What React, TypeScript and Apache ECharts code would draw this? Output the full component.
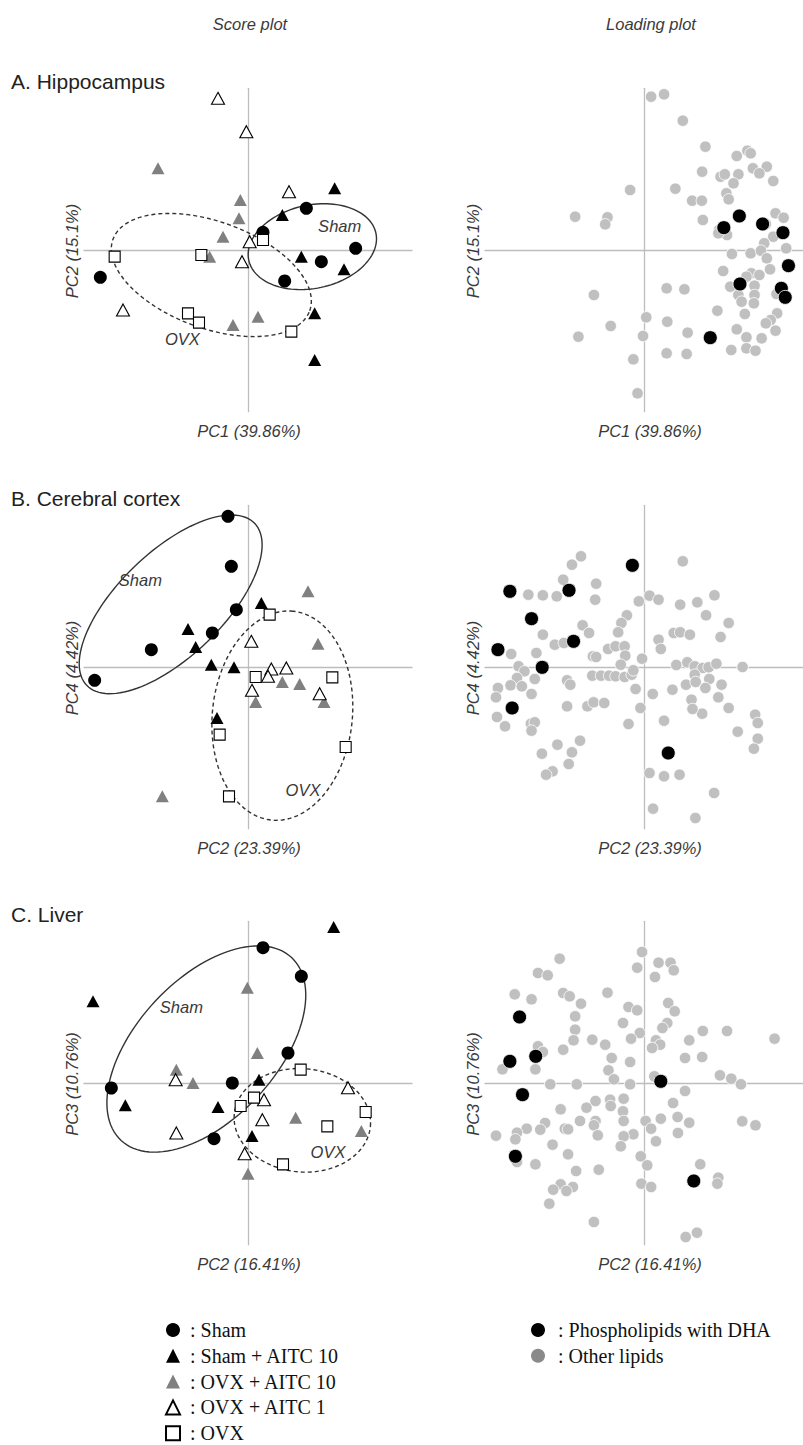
import React, { useEffect, useRef } from 'react';
import * as echarts from 'echarts';

// ---------- labels ----------
const GROUP_NAMES = ['Sham', 'Sham + AITC 10', 'OVX + AITC 10', 'OVX + AITC 1', 'OVX'];
const LIPID_NAMES = ['Phospholipids with DHA', 'Other lipids'];
const PANEL_TITLES = ['A. Hippocampus', 'B. Cerebral cortex', 'C. Liver'];
const COLUMN_TITLES = ['Score plot', 'Loading plot'];
const X_NAMES = ['PC1 (39.86%)', 'PC2 (23.39%)', 'PC2 (16.41%)'];
const Y_NAMES = ['PC2 (15.1%)', 'PC4 (4.42%)', 'PC3 (10.76%)'];
const ELLIPSE_NAMES = ['Sham', 'OVX'];

// ---------- A. Hippocampus : scores ----------
const hippoSham = [[17.5, 12.5], [4.5, 5.3], [32.3, 0.5], [22.0, -3.5], [11.0, -9.3], [-44.3, -8.2]];
const hippoShamAitc10 = [[26.0, 18.5], [10.3, 10.5], [16.0, -2.0], [28.8, -5.8], [20.0, -19.0], [20.0, -33.0]];
const hippoOvxAitc10 = [[-27.0, 24.5], [-2.3, 15.0], [-2.7, 9.5], [-7.5, 4.0], [-11.5, -2.0], [3.0, -20.0], [-4.5, -22.5]];
const hippoOvxAitc1 = [[-9.0, 45.5], [-0.5, 35.5], [12.3, 17.5], [0.5, 2.5], [-1.8, -3.5], [-37.5, -18.0]];
const hippoOvx = [[-40.0, -2.0], [-14.0, -1.5], [4.5, 3.0], [-18.0, -19.0], [-14.7, -21.8], [13.0, -24.5]];
// ellipse: cx, cy, semi-major, semi-minor, angle(deg), label x, label y, dashed
const hippoEllipses = [[19.3, 1.0, 19.5, 12.5, 12, 27.5, 7.2, 0], [-11.0, -7.5, 31.4, 16.0, -20, -19.7, -26.8, 1]];

// ---------- A. Hippocampus : loadings ----------
const hippoOther = [
  [2.2, 46.0], [6.2, 46.7], [12.0, 38.8], [19.0, 31.0], [32.0, 29.8], [33.0, 29.0], [28.7, 28.2], [18.0, 23.5],
  [23.7, 22.0], [25.0, 22.7], [29.2, 22.7], [33.7, 24.5], [38.0, 25.0], [35.7, 23.0], [40.0, 20.7], [27.7, 20.0],
  [-4.3, 18.0], [9.7, 18.4], [25.5, 17.0], [26.2, 15.2], [14.9, 14.8], [17.9, 14.8], [-21.3, 10.0], [-11.3, 9.8],
  [-12.0, 7.7], [18.2, 9.0], [23.2, 6.0], [25.7, 4.5], [40.7, 11.0], [43.2, 9.7], [37.7, 7.8], [40.0, 4.0],
  [37.2, 2.0], [44.0, 0.5], [27.2, -1.2], [33.0, -1.0], [36.2, -0.2], [38.0, -2.5], [24.5, -6.3], [33.2, -7.0],
  [35.7, -7.5], [39.0, -5.8], [31.7, -8.0], [26.7, -11.0], [34.2, -10.7], [29.2, -13.5], [34.2, -13.5], [30.2, -15.5],
  [-15.5, -13.5], [7.0, -11.5], [12.5, -11.8], [41.0, -13.2], [22.7, -18.2], [31.2, -19.2], [41.2, -19.0], [39.2, -21.0],
  [37.7, -22.0], [0.7, -20.2], [7.2, -21.5], [-10.3, -22.8], [-20.3, -26.0], [-0.3, -25.8], [13.5, -24.8], [28.7, -23.8],
  [31.7, -26.2], [36.4, -26.5], [40.7, -24.2], [7.0, -31.0], [13.2, -31.2], [27.0, -30.0], [31.7, -29.5], [34.5, -30.2],
  [-3.3, -32.8], [-2.0, -43.0], [23.0, 5.0], [34.0, -16.0]
];
const hippoDha = [[29.5, 10.2], [24.7, 6.7], [36.7, 7.8], [43.0, 5.2], [44.7, -4.7], [29.7, -10.2], [42.5, -11.5], [43.7, -14.2], [20.5, -26.3]];

// ---------- B. Cerebral cortex : scores ----------
const cortexSham = [[-6.0, 45.2], [-5.0, 30.2], [-3.5, 17.2], [-10.7, 10.2], [-29.0, 5.2], [-46.0, -4.0]];
const cortexShamAitc10 = [[4.0, 19.2], [-18.0, 11.4], [-15.7, 6.0], [-11.0, 0.7], [-4.2, -0.1], [-9.3, -15.3]];
const cortexOvxAitc10 = [[18.0, 22.7], [21.0, 7.0], [10.3, -4.5], [15.5, -5.1], [2.3, -10.5], [22.8, -10.5], [-25.7, -38.8]];
const cortexOvxAitc1 = [[1.0, 7.7], [7.0, -0.6], [11.5, -0.3], [6.0, -2.8], [1.2, -7.0], [21.5, -8.0]];
const cortexOvx = [[6.5, 15.7], [2.3, -3.0], [25.3, -3.1], [-8.5, -20.3], [29.3, -24.0], [-5.7, -38.8]];
const cortexEllipses = [[-23.2, 18.8, 35.0, 15.7, 44, -32.3, 26.2, 0], [10.3, -14.6, 31.5, 21.0, 84, 16.5, -36.8, 1]];

// ---------- B. Cerebral cortex : loadings ----------
const cortexOther = [
  [-19.5, 33.2], [-22.3, 30.7], [12.0, 31.7], [-25.0, 26.2], [-14.8, 25.0], [-35.8, 21.7], [-31.3, 21.5], [-27.0, 21.2],
  [-15.1, 20.2], [-1.6, 19.7], [1.7, 21.4], [4.5, 20.2], [11.2, 18.7], [16.5, 19.4], [21.8, 21.5], [-5.3, 15.5],
  [19.2, 15.5], [26.2, 13.2], [-19.0, 12.5], [-7.0, 13.2], [-8.0, 10.4], [-17.0, 10.2], [-31.3, 9.7], [-27.6, 6.7],
  [-24.8, 7.2], [9.2, 10.2], [11.2, 10.4], [14.2, 9.7], [23.7, 9.0], [4.5, 8.2], [5.2, 5.4], [-11.1, 5.4],
  [-8.8, 6.2], [-6.0, 6.2], [-15.8, 3.2], [-14.8, 3.0], [-5.8, 3.4], [-0.6, 2.5], [-7.2, 0.7], [-41.1, 3.9],
  [-33.3, 4.2], [-38.8, 0.2], [-37.0, -1.3], [-39.3, -3.3], [-33.8, -3.6], [-45.2, -6.3], [-41.3, -5.5], [-37.8, -5.8],
  [-34.8, -8.1], [-45.8, -9.1], [-23.8, -4.0], [-22.8, -5.3], [-16.0, -2.6], [-13.3, -2.6], [-10.8, -2.6], [-8.8, -2.8],
  [-6.0, -3.0], [-3.8, -2.3], [-3.3, -1.0], [10.0, 0.6], [13.4, 1.4], [15.7, 0.2], [18.2, -0.3], [20.0, -0.1],
  [22.4, 1.0], [30.5, 0.0], [15.7, -2.3], [13.0, -5.3], [20.2, -3.6], [16.0, -4.5], [19.0, -6.3], [24.0, -5.3],
  [-2.6, -6.6], [2.7, -8.1], [8.8, -6.8], [23.0, -9.1], [14.7, -9.8], [18.0, -14.0], [15.0, -12.6], [26.2, -12.3],
  [-23.8, -11.8], [-17.5, -11.8], [-15.6, -10.6], [-12.3, -10.8], [-1.1, -12.3], [-45.5, -15.0], [-43.0, -17.8], [-35.0, -17.0],
  [-33.8, -16.6], [-34.8, -19.1], [-4.8, -17.1], [6.2, -16.1], [29.0, -19.4], [34.4, -14.3], [35.2, -16.8], [35.2, -21.5],
  [34.0, -24.5], [-19.8, -22.1], [-26.8, -23.3], [-31.6, -26.0], [-22.3, -25.6], [-23.3, -29.1], [-28.3, -31.3], [-30.3, -32.3],
  [1.7, -31.8], [6.2, -32.8], [11.0, -32.3], [21.7, -37.8], [2.8, -42.5], [15.9, -45.3]
];
const cortexDha = [[-3.6, 30.5], [-41.5, 22.7], [-23.2, 23.0], [-34.8, 14.5], [-21.8, 7.7], [-45.2, 5.2], [-31.5, -0.1], [-40.8, -12.3], [7.5, -25.8]];

// ---------- C. Liver : scores ----------
const liverSham = [[4.5, 40.6], [16.0, 32.0], [12.0, 9.0], [-4.7, 0.0], [-41.0, -1.5], [-10.2, -16.7]];
const liverShamAitc10 = [[25.7, 46.8], [-46.5, 24.5], [3.3, 1.0], [-36.8, -6.7], [-9.0, -7.2], [1.2, -15.9]];
const liverOvxAitc10 = [[-0.2, 28.6], [2.8, 9.0], [-21.5, 4.0], [-16.5, 0.0], [14.3, -10.4], [34.0, -14.4], [0.0, -27.2]];
const liverOvxAitc1 = [[-21.7, 1.0], [30.0, -1.4], [4.8, -5.0], [4.3, -11.0], [-21.5, -15.0], [-1.0, -21.2]];
const liverOvx = [[15.8, 4.0], [1.8, -4.4], [-2.2, -6.9], [35.3, -8.7], [23.8, -13.0], [10.5, -24.4]];
const liverEllipses = [[-12.5, 10.2, 37.5, 21.0, 47, -20.0, 22.8, 0], [16.3, -11.2, 20.5, 15.5, -5, 24.0, -20.7, 1]];

// ---------- C. Liver : loadings ----------
const liverOther = [
  [-0.6, 39.3], [-26.1, 37.3], [4.5, 36.1], [8.2, 36.1], [-2.1, 34.6], [9.2, 33.8], [-32.8, 33.0], [-29.8, 32.3],
  [3.4, 31.8], [-40.0, 26.6], [-34.8, 25.1], [-25.0, 27.0], [-23.0, 26.0], [-11.3, 27.1], [-19.5, 23.8], [7.5, 24.0],
  [9.5, 21.5], [-4.8, 22.8], [-2.1, 21.8], [-21.3, 20.0], [-6.5, 18.0], [7.2, 18.0], [5.7, 16.5], [-21.3, 16.0],
  [-21.8, 12.8], [-1.3, 15.0], [-4.0, 13.3], [-16.0, 13.0], [-12.0, 11.5], [-25.0, 10.0], [-32.8, 11.0], [-31.3, 9.3],
  [3.7, 12.8], [5.0, 11.5], [2.5, 10.5], [14.0, 12.8], [18.2, 15.6], [25.7, 15.6], [40.4, 13.3], [-10.0, 7.5],
  [-4.3, 6.3], [12.7, 7.5], [18.0, 7.8], [-11.0, 3.8], [-9.3, 1.1], [-33.6, 4.1], [-43.8, 4.1], [-29.0, -0.4],
  [-20.8, -0.4], [-4.3, -0.4], [3.2, 2.0], [23.5, 2.3], [27.0, 1.3], [30.0, -0.4], [12.7, -2.4], [-15.0, -5.4],
  [-10.5, -5.0], [-10.3, -6.9], [-6.3, -4.7], [-25.8, -7.9], [-17.8, -7.4], [9.0, -6.0], [-6.5, -8.5], [-15.0, -11.4],
  [-19.8, -11.4], [-30.6, -12.0], [-32.1, -14.0], [-36.3, -13.7], [-39.3, -14.9], [-39.8, -16.9], [-45.8, -15.8], [-24.5, -13.7],
  [-23.5, -13.9], [-15.5, -12.7], [-14.3, -15.7], [-6.3, -11.4], [0.5, -11.4], [2.2, -13.7], [5.2, -10.7], [10.4, -10.2],
  [14.0, -11.9], [10.5, -15.0], [-3.3, -15.4], [-6.3, -16.0], [-7.2, -19.0], [3.7, -17.5], [30.4, -11.5], [34.5, -12.7],
  [-28.3, -18.5], [-23.5, -21.4], [-1.0, -22.0], [1.0, -24.7], [17.4, -24.4], [23.0, -28.4], [22.7, -30.2], [-33.6, -24.4],
  [-21.0, -26.4], [-14.0, -26.0], [-25.8, -30.4], [-22.0, -31.2], [-24.0, -32.4], [-28.1, -32.0], [-29.3, -36.2], [-0.8, -30.2],
  [2.2, -31.2], [-15.5, -41.7], [12.9, -46.2], [16.4, -44.9], [-39.3, -23.7]
];
const liverDha = [[-38.5, 19.8], [-41.5, 6.5], [-33.5, 8.0], [-37.6, -3.5], [5.2, 0.5], [-39.8, -22.0], [15.4, -29.4]];

const SCORE_DATA = [
  [hippoSham, hippoShamAitc10, hippoOvxAitc10, hippoOvxAitc1, hippoOvx],
  [cortexSham, cortexShamAitc10, cortexOvxAitc10, cortexOvxAitc1, cortexOvx],
  [liverSham, liverShamAitc10, liverOvxAitc10, liverOvxAitc1, liverOvx],
];
const ELLIPSE_DATA = [hippoEllipses, cortexEllipses, liverEllipses];
const DHA_DATA = [hippoDha, cortexDha, liverDha];
const OTHER_DATA = [hippoOther, cortexOther, liverOther];

// ---------- layout ----------
const PX = 10 / 3; // pixels per unit
const XH = 49.2;
const YH = 48.5;
const CROSS_Y = [250, 667, 1083];
const CROSS_X = [248, 649];
const AXIS_COLOR = '#bdbdbd';
const TEXT_COLOR = '#3a3a3a';
const SANS = '"Liberation Sans", Arial, Helvetica, sans-serif';
const SERIF = '"Liberation Serif", "Times New Roman", serif';

const GROUP_STYLES: any[] = [
  { symbol: 'circle', symbolSize: 13, itemStyle: { color: '#000000', opacity: 1 } },
  { symbol: 'triangle', symbolSize: [13, 12], itemStyle: { color: '#000000', opacity: 1 } },
  { symbol: 'triangle', symbolSize: [13, 12], itemStyle: { color: '#808080', opacity: 1 } },
  { symbol: 'triangle', symbolSize: [13, 12], itemStyle: { color: '#ffffff', borderColor: '#000000', borderWidth: 1.1, opacity: 1 } },
  { symbol: 'rect', symbolSize: 11, itemStyle: { color: '#ffffff', borderColor: '#000000', borderWidth: 1.1, opacity: 1 } },
];

function buildOption() {
  const grid: any[] = [];
  const xAxis: any[] = [];
  const yAxis: any[] = [];
  const series: any[] = [];
  const graphic: any[] = [];

  const axisCommon = {
    type: 'value',
    axisTick: { show: false },
    axisLabel: { show: false },
    splitLine: { show: false },
    axisLine: { show: true, onZero: true, lineStyle: { color: AXIS_COLOR, width: 1.3 } },
  };

  const nameStyle = {
    fill: TEXT_COLOR, fontSize: 16.5, fontStyle: 'italic', fontFamily: SANS,
    align: 'center', verticalAlign: 'middle', textAlign: 'center', textVerticalAlign: 'middle',
  };

  for (let p = 0; p < 3; p++) {
    for (let k = 0; k < 2; k++) {
      const gi = p * 2 + k;
      grid.push({
        left: CROSS_X[k] - XH * PX,
        top: CROSS_Y[p] - YH * PX,
        width: 2 * XH * PX,
        height: 2 * YH * PX,
        containLabel: false,
      });
      xAxis.push({ ...axisCommon, gridIndex: gi, min: -XH, max: XH });
      yAxis.push({ ...axisCommon, gridIndex: gi, min: -YH, max: YH });

      graphic.push({
        type: 'text',
        x: CROSS_X[k] + 1,
        y: CROSS_Y[p] + 181,
        style: { ...nameStyle, text: X_NAMES[p] },
      });
      graphic.push({
        type: 'text',
        x: CROSS_X[k] - 176,
        y: CROSS_Y[p] + 1,
        rotation: Math.PI / 2,
        style: { ...nameStyle, text: Y_NAMES[p] },
      });
    }

    // score ellipses
    const ellipses = ELLIPSE_DATA[p];
    series.push({
      type: 'custom',
      name: 'ellipses-' + p,
      xAxisIndex: p * 2,
      yAxisIndex: p * 2,
      silent: true,
      z: 2,
      data: ellipses,
      encode: { x: 0, y: 1 },
      renderItem: (params: any, api: any) => {
        const cx = api.value(0);
        const cy = api.value(1);
        const a = api.value(2);
        const b = api.value(3);
        const ang = (api.value(4) * Math.PI) / 180;
        const dashed = api.value(7) === 1;
        const pts: number[][] = [];
        const n = 120;
        for (let i = 0; i <= n; i++) {
          const t = (i / n) * Math.PI * 2;
          const x = cx + a * Math.cos(t) * Math.cos(ang) - b * Math.sin(t) * Math.sin(ang);
          const y = cy + a * Math.cos(t) * Math.sin(ang) + b * Math.sin(t) * Math.cos(ang);
          pts.push(api.coord([x, y]));
        }
        const lp = api.coord([api.value(5), api.value(6)]);
        return {
          type: 'group',
          children: [
            {
              type: 'polyline',
              shape: { points: pts },
              style: { fill: 'none', stroke: '#333333', lineWidth: 1.4, lineDash: dashed ? [4, 3] : null },
            },
            {
              type: 'text',
              x: lp[0],
              y: lp[1],
              style: { ...nameStyle, text: ELLIPSE_NAMES[params.dataIndex] },
            },
          ],
        };
      },
    });

    SCORE_DATA[p].forEach((data, g) => {
      series.push({
        type: 'scatter',
        name: GROUP_NAMES[g],
        xAxisIndex: p * 2,
        yAxisIndex: p * 2,
        data,
        clip: false,
        z: 3,
        ...GROUP_STYLES[g],
      });
    });

    series.push({
      type: 'scatter',
      name: LIPID_NAMES[1],
      xAxisIndex: p * 2 + 1,
      yAxisIndex: p * 2 + 1,
      data: OTHER_DATA[p],
      clip: false,
      z: 3,
      symbol: 'circle',
      symbolSize: 11.5,
      itemStyle: { color: '#c0c0c0', borderColor: '#ffffff', borderWidth: 0.8, opacity: 1 },
    });
    series.push({
      type: 'scatter',
      name: LIPID_NAMES[0],
      xAxisIndex: p * 2 + 1,
      yAxisIndex: p * 2 + 1,
      data: DHA_DATA[p],
      clip: false,
      z: 4,
      symbol: 'circle',
      symbolSize: 14,
      itemStyle: { color: '#000000', borderColor: '#ffffff', borderWidth: 0.8, opacity: 1 },
    });

    graphic.push({
      type: 'text',
      x: 11,
      y: CROSS_Y[p] - 169,
      style: {
        text: PANEL_TITLES[p], fill: '#222222', fontSize: 21, fontFamily: SANS,
        align: 'left', verticalAlign: 'middle', textAlign: 'left', textVerticalAlign: 'middle',
      },
    });
  }

  COLUMN_TITLES.forEach((t, k) => {
    graphic.push({
      type: 'text',
      x: CROSS_X[k] + 2,
      y: 24,
      style: { ...nameStyle, text: t },
    });
  });

  const legendText = { fontFamily: SERIF, fontSize: 20, color: '#111111', lineHeight: 20 };
  const legend = [
    {
      data: GROUP_NAMES,
      orient: 'vertical',
      left: 165,
      top: 1320,
      padding: 0,
      height: 125,
      itemWidth: 14,
      itemHeight: 14,
      itemGap: 5.8,
      selectedMode: false,
      formatter: (n: string) => ': ' + n,
      textStyle: { ...legendText, padding: [0, 0, 0, 5] },
    },
    {
      data: [
        { name: LIPID_NAMES[0], itemStyle: { color: '#000000', borderWidth: 0 } },
        { name: LIPID_NAMES[1], itemStyle: { color: '#8a8a8a', borderWidth: 0 } },
      ],
      orient: 'vertical',
      left: 531,
      top: 1320,
      padding: 0,
      itemWidth: 14,
      itemHeight: 14,
      itemGap: 5.8,
      selectedMode: false,
      formatter: (n: string) => ': ' + n,
      textStyle: { ...legendText, padding: [0, 0, 0, 8] },
    },
  ];

  return {
    animation: false,
    backgroundColor: '#ffffff',
    grid,
    xAxis,
    yAxis,
    series,
    legend,
    graphic,
  };
}

export default function App() {
  const ref = useRef<HTMLDivElement>(null);
  useEffect(() => {
    document.body.style.margin = '0';
    if (!ref.current) return;
    const chart = echarts.init(ref.current, undefined, { renderer: 'svg' });
    chart.setOption(buildOption() as any);
    return () => chart.dispose();
  }, []);
  return (
    <div
      ref={ref}
      style={{ position: 'absolute', left: 0, top: 0, width: 803, height: 1445, background: '#fff' }}
    />
  );
}
